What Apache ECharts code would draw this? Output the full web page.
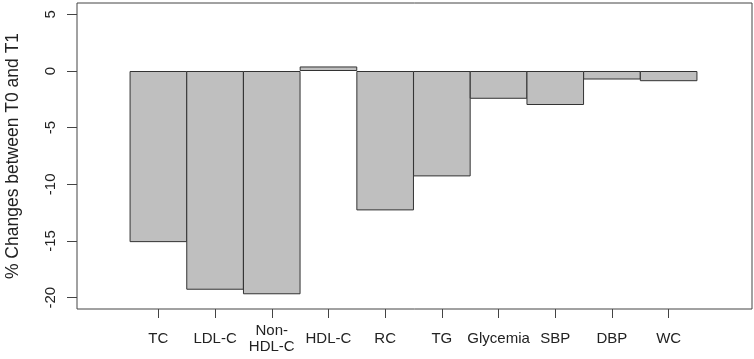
<!DOCTYPE html>
<html>
<head>
<meta charset="utf-8">
<script src="https://cdn.jsdelivr.net/npm/echarts@6/dist/echarts.min.js"></script>
<style>
  html, body { margin: 0; padding: 0; background: #fff; }
  #chart { width: 754px; height: 359px; }
</style>
</head>
<body>
<div id="chart"></div>
<script>
// 各指标 T0 -> T1 的变化百分比
var categories = ['TC', 'LDL-C', 'Non-\nHDL-C', 'HDL-C', 'RC', 'TG', 'Glycemia', 'SBP', 'DBP', 'WC'];
var changes = [-15.1, -19.3, -19.7, 0.4, -12.3, -9.3, -2.45, -3.0, -0.75, -0.9];
var yTicks = [-20, -15, -10, -5, 0, 5];

var centers = categories.map(function (c, i) { return i + 0.5; });
var barData = changes.map(function (v, i) { return [centers[i], v]; });

var myChart = echarts.init(document.getElementById('chart'));
var option = {
	animation: false,
	textStyle: {
		fontFamily: 'Liberation Sans, Arial, sans-serif',
		color: '#222'
	},
	grid: {
		left: 77,
		right: 2,
		top: 3,
		bottom: 50,
		outerBoundsMode: 'none',
		containLabel: false,
		show: true,
		borderColor: '#444',
		borderWidth: 1
	},
	xAxis: {
		type: 'value',
		min: -0.935,
		max: 10.97,
		splitLine: { show: false },
		axisLine: { show: false, onZero: false },
		axisTick: {
			show: true,
			customValues: centers,
			length: 9,
			lineStyle: { color: '#444' }
		},
		axisLabel: {
			customValues: centers,
			margin: 30,
			fontSize: 15,
			color: '#222',
			lineHeight: 16,
			verticalAlign: 'middle',
			formatter: function (v) {
				return categories[Math.round(v - 0.5)];
			}
		}
	},
	yAxis: {
		type: 'value',
		min: -21,
		max: 6,
		name: '% Changes between T0 and T1',
		nameLocation: 'middle',
		nameRotate: 90,
		nameGap: 55,
		nameTextStyle: { fontSize: 17.5, color: '#222' },
		splitLine: { show: false },
		axisLine: { show: false, onZero: false },
		axisTick: {
			show: true,
			customValues: yTicks,
			length: 10,
			lineStyle: { color: '#444' }
		},
		axisLabel: {
			customValues: yTicks,
			rotate: 90,
			margin: 19,
			fontSize: 15,
			color: '#222'
		}
	},
	series: [{
		type: 'bar',
		data: barData,
		barWidth: 57.6,
		itemStyle: {
			color: '#bfbfbf',
			borderColor: '#333',
			borderWidth: 1
		}
	}]
};
myChart.setOption(option);
</script>
</body>
</html>
